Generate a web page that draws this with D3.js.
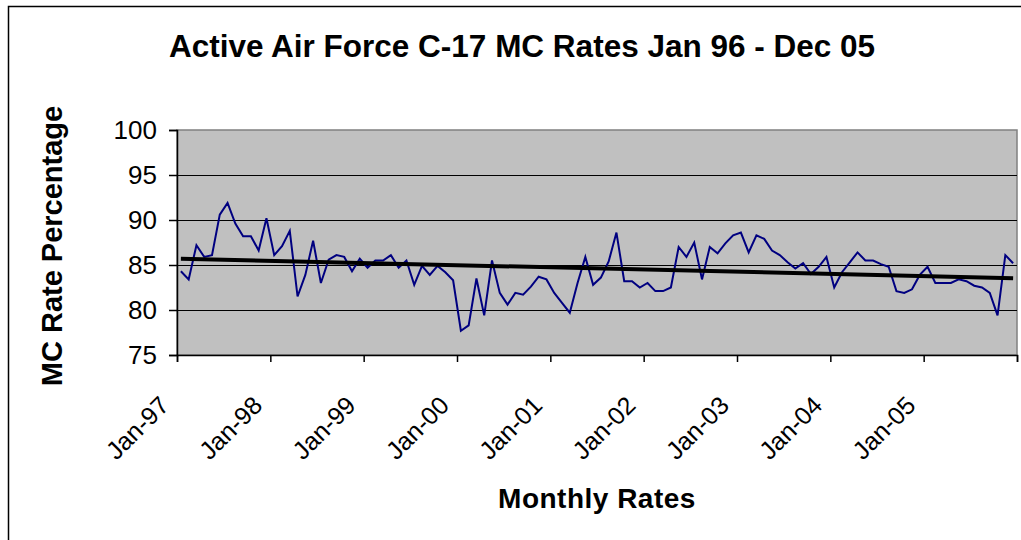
<!DOCTYPE html>
<html>
<head>
<meta charset="utf-8">
<script src="https://cdn.jsdelivr.net/npm/d3@7/dist/d3.min.js"></script>
<style>
  body { margin: 0; background: #fff; }
  svg { display: block; font-family: "Liberation Sans", Arial, sans-serif; }
</style>
</head>
<body>
<script>
// chart size
var width = 1021;
var height = 540;

// tick labels on the x axis, one every 12 months
var yearLabels = ["Jan-97", "Jan-98", "Jan-99", "Jan-00", "Jan-01", "Jan-02", "Jan-03", "Jan-04", "Jan-05"];

// monthly MC rates, Jan-97 .. Dec-05
var rates97 = [84.3, 83.4, 87.2, 85.9, 86.1, 90.6, 91.9, 89.6, 88.2, 88.2, 86.6, 90.2];
var rates98 = [86.1, 87.1, 88.8, 81.5, 83.9, 87.7, 83.0, 85.6, 86.1, 85.9, 84.3, 85.7];
var rates99 = [84.7, 85.5, 85.5, 86.1, 84.7, 85.5, 82.8, 84.9, 83.9, 84.9, 84.2, 83.3];
var rates00 = [77.7, 78.3, 83.5, 79.4, 85.5, 81.9, 80.6, 81.9, 81.7, 82.6, 83.7, 83.4];
var rates01 = [81.9, 80.8, 79.7, 83.0, 85.9, 82.8, 83.6, 85.4, 88.6, 83.2, 83.2, 82.5];
var rates02 = [83.0, 82.1, 82.1, 82.5, 87.0, 85.9, 87.5, 83.4, 87.0, 86.3, 87.4, 88.3];
var rates03 = [88.6, 86.4, 88.3, 87.9, 86.6, 86.1, 85.3, 84.6, 85.2, 84.0, 84.8, 85.9];
var rates04 = [82.5, 84.2, 85.3, 86.4, 85.5, 85.5, 85.1, 84.8, 82.1, 81.9, 82.3, 83.9];
var rates05 = [84.8, 83.0, 83.0, 83.0, 83.4, 83.2, 82.7, 82.5, 81.9, 79.4, 86.1, 85.2];

var yTicks = [75, 80, 85, 90, 95, 100];

var rates = [].concat(rates97, rates98, rates99, rates00, rates01, rates02, rates03, rates04, rates05);

// plot area
var plotLeft = 177, plotRight = 1017, plotTop = 130, plotBottom = 355;

var x = d3.scaleLinear().domain([0, rates.length]).range([plotLeft, plotRight]);
var y = d3.scaleLinear().domain([75, 100]).range([plotBottom, plotTop]);

var svg = d3.select("body").append("svg")
    .attr("width", width)
    .attr("height", height);

// outer chart border
svg.append("rect")
    .attr("x", 8.5).attr("y", 6.5)
    .attr("width", 1040).attr("height", 600)
    .style("fill", "#fff")
    .style("stroke", "#000")
    .style("stroke-width", 1.5);

// plot background
svg.append("rect")
    .attr("x", plotLeft).attr("y", plotTop)
    .attr("width", plotRight - plotLeft).attr("height", plotBottom - plotTop)
    .style("fill", "#c0c0c0")
    .style("stroke", "#808080")
    .style("stroke-width", 1.5);

// gridlines
svg.selectAll("line.grid")
    .data(yTicks.filter(function(d) { return d > 75 && d < 100; }))
    .enter()
    .append("line")
    .attr("class", "grid")
    .attr("x1", plotLeft).attr("x2", plotRight)
    .attr("y1", function(d) { return Math.round(y(d)) + 0.5; })
    .attr("y2", function(d) { return Math.round(y(d)) + 0.5; })
    .style("stroke", "#000")
    .style("stroke-width", 1);

// y axis
var yAxis = svg.append("g")
    .attr("transform", "translate(" + plotLeft + ",0)")
    .call(d3.axisLeft(y).tickValues(yTicks).tickSize(8).tickPadding(12));
yAxis.selectAll("text")
    .style("font-size", "26px")
    .style("font-family", "Liberation Sans, Arial, sans-serif")
    .style("fill", "#000");
yAxis.selectAll("line, path").style("stroke", "#000").style("stroke-width", 1.5);

// x axis, ticks between categories every 12 months
var xTickVals = d3.range(0, rates.length + 1, 12);
var xAxis = svg.append("g")
    .attr("transform", "translate(0," + plotBottom + ")")
    .call(d3.axisBottom(x).tickValues(xTickVals).tickSize(7)
        .tickFormat(function(d) { return yearLabels[d / 12] || ""; }));
xAxis.selectAll("line, path").style("stroke", "#000").style("stroke-width", 1.5);
xAxis.selectAll("text")
    .attr("text-anchor", "end")
    .attr("dy", null)
    .attr("y", null)
    .attr("transform", "translate(-7,52) rotate(-45)")
    .style("font-size", "25px")
    .style("font-family", "Liberation Sans, Arial, sans-serif")
    .style("fill", "#000");

// the monthly line
var line = d3.line()
    .x(function(d, i) { return x(i + 0.5); })
    .y(function(d) { return y(d); });

svg.append("path")
    .datum(rates)
    .attr("d", line)
    .style("fill", "none")
    .style("stroke", "#000080")
    .style("stroke-width", 2);

// linear trend (least squares)
var n = rates.length;
var mx = d3.mean(rates, function(d, i) { return i; });
var my = d3.mean(rates);
var sxy = d3.sum(rates, function(d, i) { return (i - mx) * (d - my); });
var sxx = d3.sum(rates, function(d, i) { return (i - mx) * (i - mx); });
var slope = sxy / sxx;
var icpt = my - slope * mx;

svg.append("line")
    .attr("x1", x(0.5)).attr("y1", y(icpt))
    .attr("x2", x(n - 0.5)).attr("y2", y(icpt + slope * (n - 1)))
    .style("stroke", "#000")
    .style("stroke-width", 4);

// titles
svg.append("text")
    .attr("x", 522).attr("y", 57)
    .attr("text-anchor", "middle")
    .style("font-size", "31.5px")
    .style("font-weight", "bold")
    .text("Active Air Force C-17 MC Rates Jan 96 - Dec 05");

svg.append("text")
    .attr("transform", "translate(62,246) rotate(-90)")
    .attr("text-anchor", "middle")
    .style("font-size", "29px")
    .style("font-weight", "bold")
    .text("MC Rate Percentage");

svg.append("text")
    .attr("x", 597).attr("y", 508)
    .attr("text-anchor", "middle")
    .style("font-size", "28px")
    .style("font-weight", "bold")
    .style("letter-spacing", "0.5px")
    .text("Monthly Rates");
</script>
</body>
</html>
